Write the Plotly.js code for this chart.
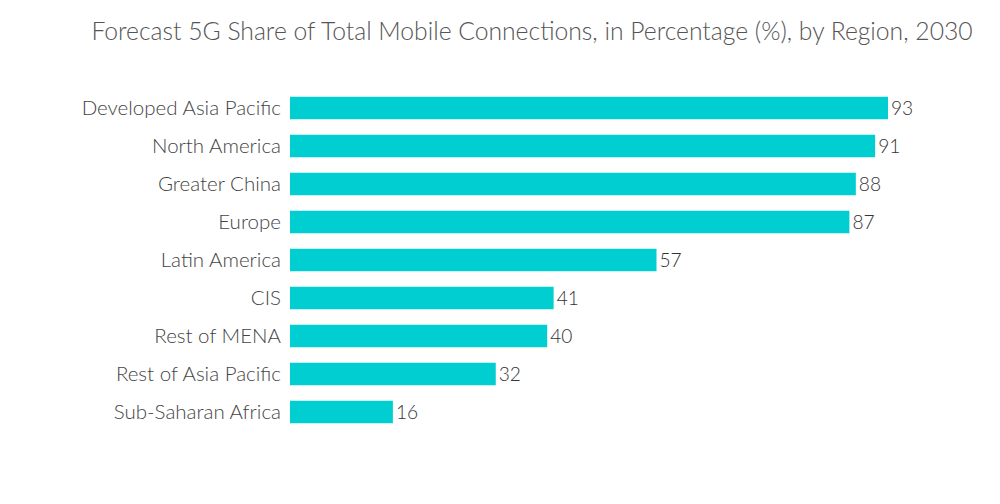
<!DOCTYPE html>
<html>
<head>
<meta charset="utf-8">
<script src="https://cdn.plot.ly/plotly-3.0.1.min.js"></script>
<style>html,body{margin:0;padding:0;background:#fff;}#chart{width:1000px;height:504px;}</style>
</head>
<body>
<div id="chart"></div>
<script>
const regions = ["Developed Asia Pacific","North America","Greater China","Europe","Latin America","CIS","Rest of MENA","Rest of Asia Pacific","Sub-Saharan Africa"];
const shares = [93,91,88,87,57,41,40,32,16];

const trace = {
  type: 'bar',
  orientation: 'h',
  y: regions,
  x: shares,
  marker: {color: '#00CED1'},
  text: shares.map(String),
  textposition: 'outside',
  cliponaxis: false,
  textfont: {family: 'Lato', size: 20.5, color: '#333', weight: 300},
  hoverinfo: 'none'
};

const layout = {
  width: 1000, height: 504,
  margin: {l: 290, r: 67, t: 89, b: 73},
  paper_bgcolor: '#fff', plot_bgcolor: '#fff',
  title: {text: 'Forecast 5G Share of Total Mobile Connections, in Percentage (%), by Region, 2030',
    font: {family: 'Lato', size: 24.7, color: '#555', weight: 300},
    x: 0.532, xref: 'container', xanchor: 'center', y: 1 - 31/504, yref: 'container', yanchor: 'middle'},
  bargap: 0.41,
  showlegend: false,
  xaxis: {range: [0, 100], visible: false, fixedrange: true},
  yaxis: {autorange: 'reversed', showgrid: false, zeroline: false, showline: false, ticks: '',
    ticklabelstandoff: 8,
    tickfont: {family: 'Lato', size: 20.5, color: '#444', weight: 300}}
};

Plotly.newPlot('chart', [trace], layout, {displayModeBar: false, staticPlot: true});
</script>
</body>
</html>
